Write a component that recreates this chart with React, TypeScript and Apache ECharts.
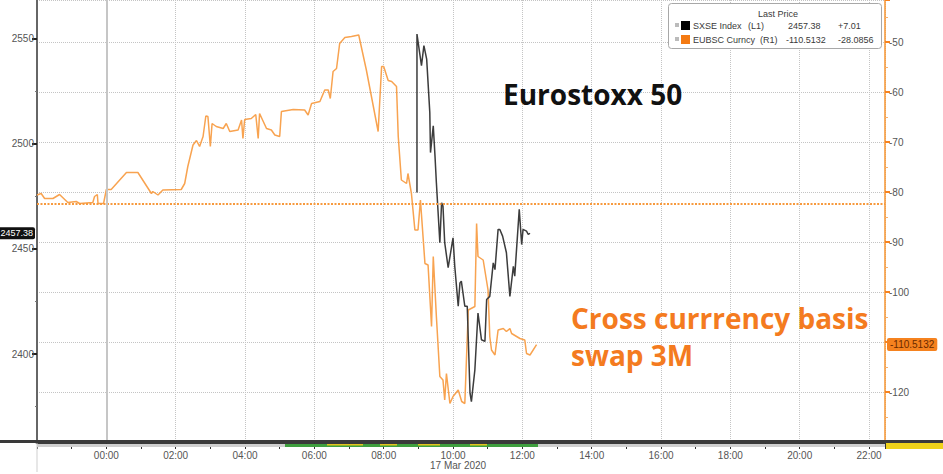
import React, { useEffect, useRef } from "react";
import * as echarts from "echarts";

// Hours relative to 00:00, 17 Mar 2020 (negative = 16 Mar evening)
const sxseHours = [8.96, 8.96, 9.09, 9.16, 9.24, 9.33, 9.35, 9.43, 9.48, 9.52, 9.62, 9.67, 9.71, 9.76, 9.86, 9.96, 10.0, 10.05, 10.15, 10.2, 10.24, 10.34, 10.41, 10.49, 10.53, 10.63, 10.72, 10.82, 10.92, 10.97, 11.06, 11.16, 11.21, 11.3, 11.35, 11.43, 11.54, 11.64, 11.74, 11.78, 11.91, 11.98, 12.02, 12.12, 12.17, 12.22];
const sxseValues = [2476.7, 2552.0, 2537.0, 2546.5, 2540.1, 2514.8, 2495.7, 2508.4, 2494.1, 2481.4, 2452.9, 2471.9, 2470.3, 2452.9, 2441.0, 2451.2, 2455.2, 2441.7, 2422.7, 2433.8, 2434.6, 2422.7, 2422.7, 2381.4, 2377.4, 2392.5, 2419.5, 2406.8, 2406.0, 2425.9, 2427.4, 2443.3, 2440.1, 2459.2, 2459.2, 2456.0, 2448.1, 2427.4, 2441.7, 2437.0, 2468.7, 2452.0, 2459.2, 2458.4, 2456.8, 2457.38];

const eubscHours = [-2.0, -1.88, -1.78, -1.54, -1.35, -1.11, -0.87, -0.77, -0.39, -0.34, -0.26, -0.24, -0.08, 0, 0.14, 0.58, 0.91, 1.3, 1.34, 1.49, 1.63, 2.16, 2.26, 2.35, 2.5, 2.6, 2.69, 2.79, 2.87, 2.93, 3.0, 3.05, 3.17, 3.37, 3.46, 3.56, 3.8, 3.9, 3.94, 3.99, 4.18, 4.31, 4.38, 4.42, 4.62, 4.76, 4.86, 5.0, 5.05, 5.39, 5.72, 5.82, 5.92, 6.16, 6.3, 6.4, 6.46, 6.54, 6.64, 6.73, 6.88, 7.07, 7.28, 7.5, 7.84, 7.94, 8.0, 8.13, 8.23, 8.37, 8.42, 8.51, 8.66, 8.7, 8.8, 8.9, 8.99, 9.06, 9.19, 9.28, 9.38, 9.43, 9.52, 9.62, 9.71, 9.76, 9.81, 9.91, 10.0, 10.15, 10.25, 10.34, 10.44, 10.63, 10.68, 10.72, 10.87, 11.01, 11.06, 11.11, 11.21, 11.3, 11.45, 11.54, 11.64, 11.69, 11.93, 12.07, 12.12, 12.22, 12.41];
const eubscValues = [-80.6, -80.3, -81.3, -81.3, -80.5, -82.1, -81.9, -82.3, -82.1, -80.9, -80.5, -82.3, -82.3, -79.5, -79.5, -76.1, -76.1, -80.3, -79.9, -80.6, -79.6, -79.5, -78.3, -74.9, -70.6, -69.7, -70.9, -68.9, -64.8, -64.9, -70.9, -66.3, -66.9, -67.3, -66.3, -67.9, -67.6, -65.6, -69.3, -65.5, -65.3, -64.5, -69.3, -64.3, -67.3, -67.6, -68.6, -68.9, -63.9, -63.5, -63.6, -64.6, -62.3, -61.9, -59.6, -59.6, -61.3, -55.9, -55.3, -50.3, -49.1, -48.9, -48.6, -55.6, -67.9, -54.9, -54.9, -57.7, -57.9, -58.9, -68.9, -77.6, -78.3, -76.3, -80.3, -87.6, -87.6, -81.6, -94.3, -94.6, -106.9, -92.9, -104.9, -116.9, -117.6, -121.6, -116.3, -122.3, -120.9, -119.6, -121.9, -122.3, -103.6, -102.9, -86.3, -92.9, -93.6, -99.6, -108.9, -111.6, -112.6, -107.6, -107.3, -107.9, -107.3, -108.3, -109.3, -109.6, -112.3, -112.6, -110.5132];

const leftTicks = [2400, 2450, 2500, 2550];
const leftMinorTicks = [2375, 2425, 2475, 2525];
const sxseLast = 2457.38;
const sxseChange = "+7.01";
const eubscLast = -110.5132;
const eubscChange = "-28.0856";
const eubscPrevClose = -82.4276;
const dateLabel = "17 Mar 2020";

const LABEL_FONT = "Liberation Sans";

export default function App() {
  const ref = useRef<HTMLDivElement>(null);
  useEffect(() => {
    const chart = echarts.init(ref.current!, null, { renderer: "svg" });
    const fmtHour = (v: number) => {
      const h = ((Math.round(v) % 24) + 24) % 24;
      return String(h).padStart(2, "0") + ":00";
    };
    const legendText = (x: number, y: number, text: string, extra: any = {}) => ({
      type: "text",
      x,
      y,
      z: 101,
      style: { text, fill: "#3a3a3a", fontSize: 9, fontFamily: LABEL_FONT, verticalAlign: "middle", ...extra },
    });
    chart.setOption({
      animation: false,
      textStyle: { fontFamily: LABEL_FONT },
      grid: { left: 37, right: 58, top: 0, bottom: 32, containLabel: false },
      xAxis: {
        type: "value",
        min: -2,
        max: 22.46,
        interval: 2,
        axisLine: { show: true, onZero: false, lineStyle: { color: "#3a3a3a", width: 3 } },
        axisTick: { show: true, length: 7, lineStyle: { color: "#333" } },
        minorTick: { show: true, splitNumber: 2, length: 7, lineStyle: { color: "#333" } },
        axisLabel: {
          formatter: fmtHour,
          showMinLabel: false,
          showMaxLabel: false,
          color: "#555",
          fontSize: 10,
          margin: 8,
          fontFamily: LABEL_FONT,
        },
        splitLine: { show: true, lineStyle: { type: "dotted", color: "#c4c4c4" } },
      },
      yAxis: [
        {
          type: "value",
          position: "left",
          min: 2358.2,
          max: 2568.2,
          axisLine: { show: true, onZero: false, lineStyle: { color: "#666", width: 2 } },
          axisTick: { show: true, customValues: leftTicks, length: 5, lineStyle: { color: "#222", width: 2 } },
          axisLabel: {
            customValues: leftTicks,
            formatter: (v: number) => String(v),
            color: "#555",
            fontSize: 10,
            margin: 3,
            fontFamily: LABEL_FONT,
          },
          splitLine: { show: false },
        },
        {
          type: "value",
          position: "right",
          min: -130,
          max: -41.6,
          interval: 10,
          axisLine: { show: true, onZero: false, lineStyle: { color: "#f7942f", width: 1.5 } },
          axisTick: { show: true, length: 5, lineStyle: { color: "#f58220", width: 2 } },
          minorTick: { show: true, splitNumber: 2, length: 3, lineStyle: { color: "#f9b06a" } },
          axisLabel: {
            showMinLabel: false,
            showMaxLabel: false,
            formatter: (v: number) => (v === -110 ? "" : String(v)),
            color: "#555",
            fontSize: 10,
            margin: 4,
            fontFamily: LABEL_FONT,
          },
          splitLine: { show: true, lineStyle: { type: "dotted", color: "#c4c4c4" } },
        },
        {
          type: "value",
          position: "left",
          min: 2358.2,
          max: 2568.2,
          axisLine: { show: false, onZero: false },
          axisTick: { show: true, customValues: leftMinorTicks, length: 2, lineStyle: { color: "#777" } },
          axisLabel: { show: false },
          splitLine: { show: false },
        },
      ],
      series: [
        {
          name: "EUBSC Curncy",
          type: "line",
          yAxisIndex: 1,
          symbol: "none",
          clip: false,
          data: eubscHours.map((h, i) => [h, eubscValues[i]]),
          lineStyle: { color: "#f8a350", width: 1.5 },
          z: 3,
          markLine: {
            silent: true,
            symbol: ["none", "none"],
            data: [
              {
                yAxis: eubscPrevClose,
                lineStyle: { color: "#f79a3e", width: 2, type: [2, 1.5] },
                label: { show: false },
              },
              {
                xAxis: 0,
                lineStyle: { color: "#c6c6c6", width: 2, type: "solid" },
                label: { show: false },
              },
              {
                yAxis: eubscLast,
                lineStyle: { color: "rgba(0,0,0,0)", width: 0 },
                label: {
                  show: true,
                  position: "end",
                  formatter: String(eubscLast),
                  backgroundColor: "#f5821f",
                  color: "#6a2a00",
                  fontSize: 10,
                  fontFamily: LABEL_FONT,
                  padding: [2, 3, 1, 3],
                  borderRadius: 2,
                  distance: 2,
                },
              },
            ],
          },
        },
        {
          name: "SXSE Index",
          type: "line",
          yAxisIndex: 0,
          symbol: "none",
          clip: false,
          data: sxseHours.map((h, i) => [h, sxseValues[i]]),
          lineStyle: { color: "#3c3c3c", width: 1.5 },
          z: 4,
          markLine: {
            silent: true,
            symbol: ["none", "none"],
            data: [
              {
                yAxis: sxseLast,
                lineStyle: { color: "rgba(0,0,0,0)", width: 0 },
                label: {
                  show: true,
                  position: "start",
                  formatter: sxseLast.toFixed(2),
                  backgroundColor: "#111",
                  color: "#fff",
                  fontSize: 9,
                  fontFamily: LABEL_FONT,
                  padding: [2, 2, 1, 2],
                  borderRadius: 2,
                  distance: 2,
                },
              },
            ],
          },
        },
      ],
      graphic: [
        { type: "line", z: 90, shape: { x1: 0, y1: 441.5, x2: 943, y2: 441.5 }, style: { stroke: "#3a3a3a", lineWidth: 3 } },
        { type: "rect", z: 90, shape: { x: 37, y: 444, width: 848, height: 3 }, style: { fill: "#cfcfcf" } },
        { type: "rect", z: 91, shape: { x: 285, y: 444, width: 253, height: 3 }, style: { fill: "#3f9f3f" } },
        { type: "rect", z: 92, shape: { x: 327, y: 444, width: 36, height: 1.5 }, style: { fill: "#e3c51e" } },
        { type: "rect", z: 92, shape: { x: 380, y: 444, width: 17, height: 1.5 }, style: { fill: "#e3c51e" } },
        { type: "rect", z: 92, shape: { x: 418, y: 444, width: 22, height: 1.5 }, style: { fill: "#e3c51e" } },
        { type: "rect", z: 92, shape: { x: 470, y: 444, width: 17, height: 1.5 }, style: { fill: "#e3c51e" } },
        { type: "rect", z: 92, shape: { x: 886, y: 443, width: 57, height: 6 }, style: { fill: "#efd21a" } },
        { type: "line", z: 89, shape: { x1: 37, y1: 442, x2: 37, y2: 472 }, style: { stroke: "#cfcfcf", lineWidth: 1 } },
        {
          type: "text",
          x: 430,
          y: 465,
          z: 95,
          style: { text: dateLabel, fill: "#555", fontSize: 10, fontFamily: LABEL_FONT, verticalAlign: "middle" },
        },
        // legend box
        {
          type: "rect",
          z: 100,
          shape: { x: 668.5, y: 3.5, width: 213, height: 45, r: 3 },
          style: { fill: "#fff", stroke: "#a8a8a8", lineWidth: 1 },
        },
        legendText(778, 14, "Last Price", { textAlign: "center" }),
        { type: "rect", z: 101, shape: { x: 675, y: 23, width: 4, height: 4 }, style: { fill: "#bbb" } },
        { type: "rect", z: 101, shape: { x: 681, y: 21, width: 9, height: 9 }, style: { fill: "#000" } },
        legendText(693, 25.5, "SXSE Index"),
        legendText(748, 25.5, "(L1)"),
        legendText(788, 25.5, sxseLast.toFixed(2)),
        legendText(838, 25.5, sxseChange),
        { type: "rect", z: 101, shape: { x: 675, y: 37, width: 4, height: 4 }, style: { fill: "#bbb" } },
        { type: "rect", z: 101, shape: { x: 681, y: 35, width: 9, height: 9 }, style: { fill: "#f47a12" } },
        legendText(693, 39.5, "EUBSC Curncy"),
        legendText(760, 39.5, "(R1)"),
        legendText(786, 39.5, String(eubscLast)),
        legendText(838, 39.5, eubscChange),
        // annotations
        {
          type: "text",
          x: 503,
          y: 94,
          z: 100,
          style: { text: "Eurostoxx 50", fill: "#111", fontSize: 28, fontWeight: "bold", fontFamily: "Open Sans", verticalAlign: "middle" },
        },
        {
          type: "text",
          x: 571,
          y: 318,
          z: 100,
          style: {
            text: "Cross currrency basis",
            fill: "#f47b20",
            fontSize: 28,
            fontWeight: "bold",
            fontFamily: "Open Sans",
            verticalAlign: "middle",
          },
        },
        {
          type: "text",
          x: 571,
          y: 355,
          z: 100,
          style: {
            text: "swap 3M",
            fill: "#f47b20",
            fontSize: 28,
            fontWeight: "bold",
            fontFamily: "Open Sans",
            verticalAlign: "middle",
          },
        },
      ],
    });
    return () => chart.dispose();
  }, []);
  return (
    <div
      ref={ref}
      style={{ position: "fixed", left: 0, top: 0, width: 943, height: 474, background: "#fff" }}
    />
  );
}
